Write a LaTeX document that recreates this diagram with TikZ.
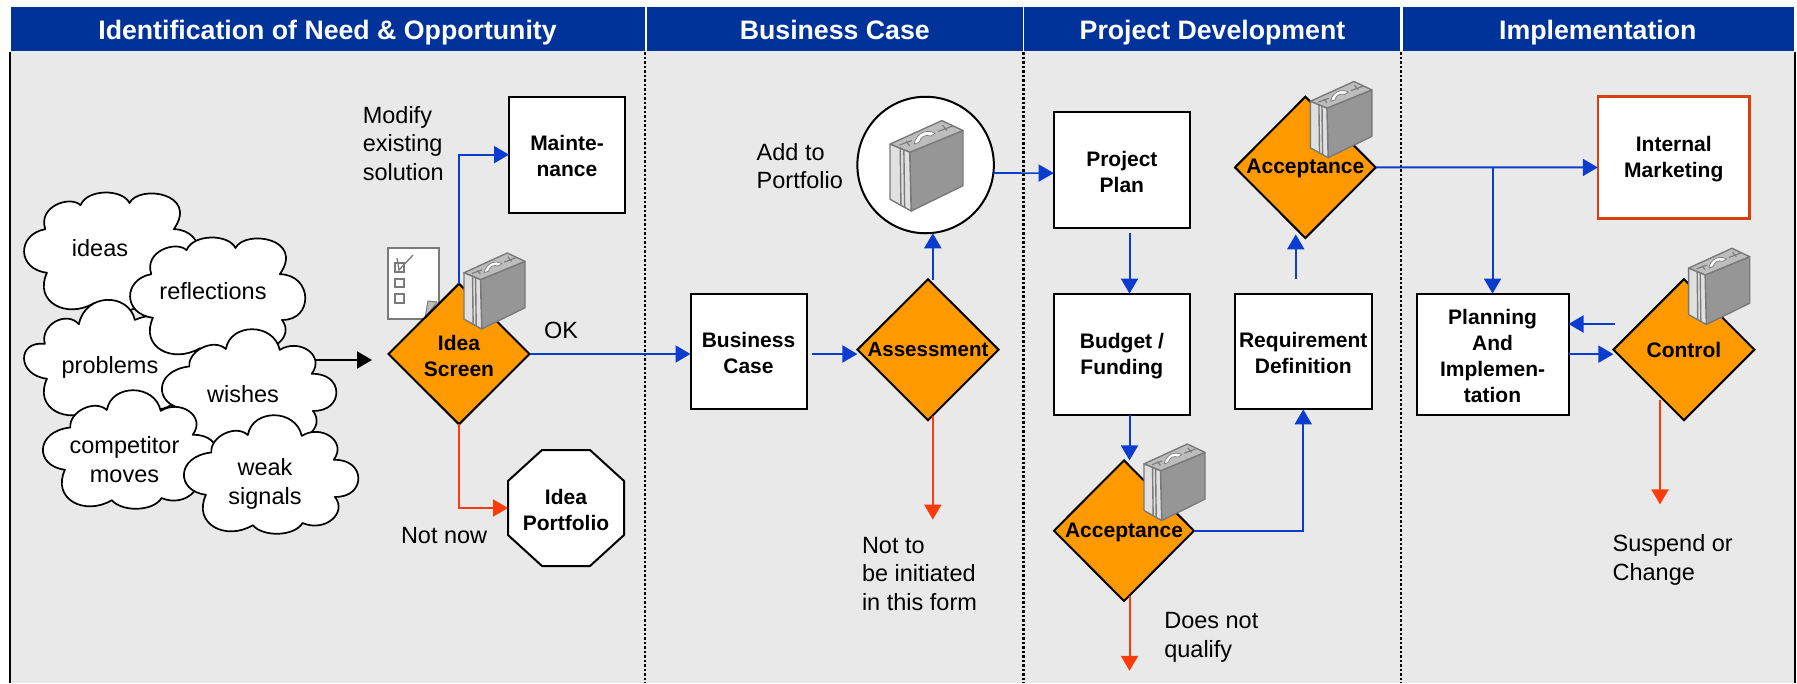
\documentclass[tikz,border=0pt]{standalone}
\usepackage{fontspec}
\setmainfont{Liberation Sans}
\usetikzlibrary{arrows.meta,shapes.geometric}
\definecolor{hdrblue}{HTML}{003399}
\definecolor{panel}{HTML}{E9E9E9}
\definecolor{flowblue}{HTML}{0A3CCF}
\definecolor{flowred}{HTML}{FF3A0A}
\definecolor{decide}{HTML}{FF9900}
\definecolor{caseface}{HTML}{969696}
\definecolor{casetop}{HTML}{BDBDBD}
\definecolor{caseline}{HTML}{7A7A7A}
\definecolor{caseside}{HTML}{E0E0E0}
\definecolor{imborder}{HTML}{D8400C}
\tikzset{
  boldtxt/.style={font=\fontsize{21}{26}\selectfont\bfseries,align=center,inner sep=0pt,outer sep=0pt,yshift=-1.5pt},
  plaintxt/.style={font=\fontsize{23.5}{28.7}\selectfont,align=left,inner sep=0pt,outer sep=0pt,anchor=west},
  cloudtxt/.style={font=\fontsize{23.5}{28.7}\selectfont,align=center,inner sep=0pt,outer sep=0pt},
  hdrtxt/.style={font=\fontsize{26.7}{30}\selectfont\bfseries,text=white,inner sep=0pt,outer sep=0pt,anchor=base},
  hdrbar/.style={fill=hdrblue,draw=none},
  sep/.style={line width=2.5pt,dash pattern=on 2.5pt off 2pt,black},
  box/.style={draw=black,fill=white,line width=2pt,inner sep=0pt,outer sep=0pt,rectangle},
  decision/.style={diamond,draw=black,fill=decide,line width=2pt,inner sep=0pt,outer sep=0pt},
  tip/.style={-{Triangle[length=15pt,width=17pt]}},
  blueflow/.style={tip,draw=flowblue,line width=2pt},
  redflow/.style={tip,draw=flowred,line width=2pt},
  blackflow/.style={tip,draw=black,line width=2pt},
}
% upper outlines of the three cloud variants
\newcommand{\topTwo}{(49,83) .. controls (30,30) and (110,5) .. (134,28)
      .. controls (150,-10) and (235,-10) .. (252,23)
      .. controls (275,-20) and (420,0) .. (359,83)
      .. controls (440,85) and (440,190) .. (364,188)}
\newcommand{\topOne}{(66,86) .. controls (62,50) and (125,20) .. (154,46)
      .. controls (165,-15) and (270,-15) .. (284,48)
      .. controls (330,20) and (395,60) .. (361,103)
      .. controls (440,100) and (440,190) .. (364,188)}
\newcommand{\topLow}{(48,103) .. controls (35,60) and (100,25) .. (130,58)
      .. controls (145,-15) and (250,-15) .. (265,48)
      .. controls (330,20) and (395,60) .. (361,103)
      .. controls (440,100) and (440,190) .. (364,188)}
\newcommand{\blob}[7]{%
  \begin{scope}[shift={(#2,#3)},x=0.4146pt,y=-0.4356pt]
    \draw[fill=white,draw=black,line width=1.7pt,line join=round]
      #7
      .. controls (395,225) and (340,270) .. (286,248)
      .. controls (265,280) and (190,280) .. (166,253)
      .. controls (100,290) and (20,250) .. (53,183)
      .. controls (-20,175) and (-20,95) .. cycle;
  \end{scope}
  \node[cloudtxt] (#1) at (#4,#5) {#6};}
\newcommand{\briefcase}[4]{%
  \begin{scope}[shift={(#1,#2)},x=#3pt,y=-#4pt,draw=caseline,line width=1.4pt,line join=round]
    \draw[fill=caseface] (.27,.35) -- (1,.11) -- (1,.72) -- (.29,1) -- cycle;
    \draw[fill=casetop] (0,.26) -- (.71,0) -- (1,.11) -- (.27,.35) -- cycle;
    \draw[fill=caseside] (0,.26) -- (.27,.35) -- (.29,1) -- (0,.87) -- cycle;
    \draw (.14,.30) -- (.15,.94);
    \draw (.19,.32) -- (.20,.96);
    \draw[fill=white,line width=.7pt] (.33,.26) .. controls (.36,.13) and (.52,.09) .. (.62,.14) -- (.56,.17) .. controls (.48,.15) and (.42,.18) .. (.40,.24) -- cycle;
    \draw[line width=1.1pt] (.13,.27) -- (.30,.22) (.22,.23) -- (.27,.28);
    \draw[line width=1.1pt] (.66,.12) -- (.86,.06) (.72,.05) -- (.78,.11);
  \end{scope}}
\begin{document}
\begin{tikzpicture}[x=1pt,y=-1pt]
\useasboundingbox (0,0) rectangle (1797,683);
\fill[white] (0,0) rectangle (1797,683);
\fill[panel] (10,51) rectangle (1795,683);
% headers
\fill[hdrbar] (11,7.4) rectangle (644.7,51);
\fill[hdrbar] (646.5,7.4) rectangle (1022.7,51);
\fill[hdrbar] (1024.2,7.4) rectangle (1400,51);
\fill[hdrbar] (1402.5,7.4) rectangle (1794,51);
\node[hdrtxt] (h1) at (327.5,39.5) {Identification of Need \& Opportunity};
\node[hdrtxt] (h2) at (834.8,39.5) {Business Case};
\node[hdrtxt] (h3) at (1212.5,39.5) {Project Development};
\node[hdrtxt] (h4) at (1597.8,39.5) {Implementation};
% frame and separators
\draw[black,line width=2pt] (10.4,52) -- (10.4,683);
\draw[black,line width=2pt] (1794.5,52) -- (1794.5,683);
\draw[sep] (645,52) -- (645,683);
\draw[sep] (1023.5,52) -- (1023.5,683);
\draw[sep] (1401,52) -- (1401,683);
% clouds
\blob{cIdeas}{25}{193}{100}{248}{ideas}{\topTwo}
\blob{cProblems}{25}{299}{110}{367}{problems}{\topLow}
\blob{cReflections}{131}{238}{213}{291}{reflections}{\topTwo}
\blob{cWishes}{162}{329}{243}{394}{wishes}{\topOne}
\blob{cCompetitor}{43}{390}{124.5}{459.5}{competitor\\moves}{\topOne}
\blob{cWeak}{184}{415}{265}{484}{weak\\signals}{\topOne}
% checklist
\draw[draw=caseline,fill=white,line width=1.3pt] (388,248) rectangle (439,319);
\draw[draw=caseline,fill=casetop,line width=1pt] (425,318) -- (428,301) -- (437,302) -- cycle;
\draw[draw=caseline,line width=1.6pt] (395,263) rectangle (404,272);
\draw[draw=caseline,line width=1.6pt] (395,279) rectangle (404,287);
\draw[draw=caseline,line width=1.6pt] (395,294) rectangle (404,303);
\draw[draw=caseline,line width=1.3pt] (397,258) -- (399,270) -- (413,255);
% nodes
\node[box,minimum width=116pt,minimum height=116pt] (mnt) at (567,154.65) {};
\node[boldtxt] (mntT) at (mnt) {Mainte-\\nance};
\node[rectangle,inner sep=0pt,outer sep=0pt,minimum width=116pt,minimum height=116pt] (port) at (566,508) {};
\draw[fill=white,draw=black,line width=2pt,line join=round]
  (542,450) -- (590,450) -- (624,481) -- (624,535) -- (590,566) -- (542,566) -- (508,535) -- (508,481) -- cycle;
\node[boldtxt] (portT) at (port) {Idea\\Portfolio};
\node[decision,minimum width=141pt,minimum height=140.7pt] (scr) at (459,354) {};
\node[boldtxt] (scrT) at (459,354) {Idea\\Screen};
\node[box,minimum width=116pt,minimum height=115.8pt] (bc) at (748.5,351.5) {};
\node[boldtxt] (bcT) at (bc) {Business\\Case};
\node[decision,minimum width=141.2pt,minimum height=141pt] (asm) at (928,349.7) {};
\node[boldtxt,font=\fontsize{20.5}{25}\selectfont\bfseries,yshift=1.5pt] (asmT) at (asm) {Assessment};
\node[circle,draw=black,fill=white,line width=2pt,inner sep=0pt,outer sep=0pt,minimum size=136.5pt] (add) at (925.6,165) {};
\node[box,minimum width=136.3pt,minimum height=115.4pt] (pp) at (1121.85,170.1) {};
\node[boldtxt] (ppT) at (pp) {Project\\Plan};
\node[box,minimum width=136.3pt,minimum height=121.1pt] (bud) at (1121.85,354.15) {};
\node[boldtxt] (budT) at (bud) {Budget /\\Funding};
\node[decision,minimum width=140pt,minimum height=140.6pt] (acc1) at (1124,530.7) {};
\node[boldtxt] (acc1T) at (1124,531.4) {Acceptance};
\node[box,minimum width=137.1pt,minimum height=115.8pt] (req) at (1303.25,351.5) {};
\node[boldtxt] (reqT) at (req) {Requirement\\Definition};
\node[decision,minimum width=140.7pt,minimum height=141.3pt] (acc2) at (1305.35,167.4) {};
\node[boldtxt] (acc2T) at (acc2) {Acceptance};
\node[draw=imborder,fill=white,line width=2.6pt,inner sep=0pt,outer sep=0pt,minimum width=151.9pt,minimum height=121.5pt] (im) at (1673.75,157.45) {};
\node[boldtxt] (imT) at (im) {Internal\\Marketing};
\node[box,minimum width=151.9pt,minimum height=121.1pt] (plan) at (1492.55,354.15) {};
\node[boldtxt] (planT) at (plan) {Planning\\And\\Implemen-\\tation};
\node[decision,minimum width=141pt,minimum height=141pt] (ctl) at (1683.9,349.7) {};
\node[boldtxt,yshift=1.5pt] (ctlT) at (ctl) {Control};
% briefcases
\briefcase{464}{253}{61}{76}
\briefcase{890}{120.6}{73}{90.4}
\briefcase{1144}{444}{61}{76.5}
\briefcase{1310.3}{81.5}{61.5}{76.2}
\briefcase{1688.6}{248.3}{61.1}{76.2}
% free ends
\coordinate (wishOut) at (315,360);
\coordinate (scrIn) at (372,360);
\coordinate (asmEnd) at (932.8,519.6);
\coordinate (accEnd) at (1129.5,670.8);
\coordinate (ctlEnd) at (1660,504.4);
\coordinate (br) at (plan.north |- acc2.east);
% connectors
\draw[blackflow] (wishOut) -- (scrIn);
\draw[blueflow] (scr.north) |- (mnt.west);
\draw[redflow] (scr.south) |- (port.west);
\draw[blueflow] (scr.east) -- ([yshift=-2.5pt]bc.west);
\draw[blueflow] ([xshift=5pt,yshift=-2.5pt]bc.east) -- ([yshift=-4.3pt]asm.west);
\draw[blueflow] ([xshift=4.8pt,yshift=-.5pt]asm.north) -- ([xshift=7.2pt]add.south);
\draw[redflow] ([xshift=4.8pt,yshift=4.5pt]asm.south) -- (asmEnd);
\draw[blueflow,line width=1.6pt] ([xshift=-.5pt,yshift=-8pt]add.east) -- ([yshift=-3pt]pp.west);
\draw[blueflow] ([xshift=7.65pt,yshift=-4.8pt]pp.south) -- ([xshift=7.65pt]bud.north);
\draw[blueflow] ([xshift=7.65pt]bud.south) -- ([xshift=5.5pt]acc1.north);
\draw[redflow] ([xshift=5.5pt,yshift=5.5pt]acc1.south) -- (accEnd);
\draw[blueflow] (acc1.east) -| (req.south);
\draw[blueflow] ([xshift=-7.5pt,yshift=14.4pt]req.north) -- ([xshift=-9.6pt,yshift=3.7pt]acc2.south);
\draw[blueflow] (acc2.east) -- ([yshift=-10pt]im.west);
\draw[blueflow] (br) -- (plan.north);
\draw[blueflow] ([xshift=1.4pt,yshift=25.7pt]ctl.west) -- ([yshift=30.15pt]plan.east);
\draw[blueflow] (plan.east) -- ([yshift=-4.45pt]ctl.west);
\draw[redflow] ([xshift=-23.9pt,yshift=20.6pt]ctl.south) -- (ctlEnd);
% labels
\node[plaintxt] (lMod) at (362.8,143.3) {Modify\\existing\\solution};
\node[plaintxt] (lNow) at (401,536) {Not now};
\node[plaintxt] (lOk) at (544,330) {OK};
\node[plaintxt] (lAdd) at (756.7,166) {Add to\\Portfolio};
\node[plaintxt] (lNot) at (862,574) {Not to\\be initiated\\in this form};
\node[plaintxt] (lDoes) at (1164.3,637.5) {Does not\\qualify};
\node[plaintxt] (lSus) at (1612.6,560) {Suspend or\\Change};
\end{tikzpicture}
\end{document}
